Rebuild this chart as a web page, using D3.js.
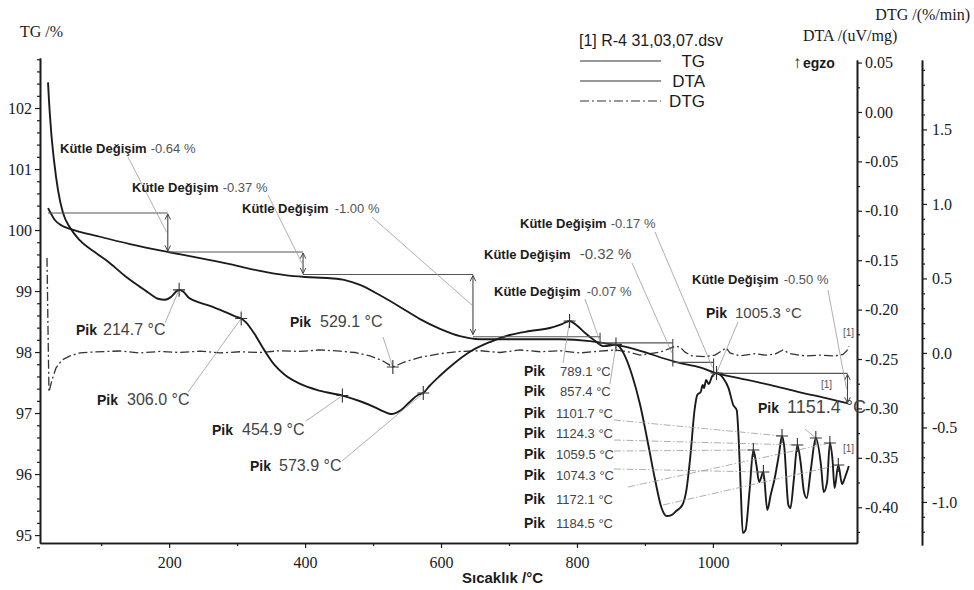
<!DOCTYPE html>
<html>
<head>
<meta charset="utf-8">
<script src="https://cdn.jsdelivr.net/npm/d3@7"></script>
<style>
  body { margin: 0; background: #fff; }
  svg { display: block; }
</style>
</head>
<body>
<svg id="chart" width="974" height="590"></svg>
<script>
// ---- Thermal analysis data (R-4 31,03,07) ----
const tgTemp = [21.8, 24.7, 32.1, 42.4, 54.1, 98.3, 142.4, 198.3, 245.4, 289.5, 333.7, 370.4, 399.9, 436.6, 458.7, 480.8, 510.2, 539.6, 569.1, 598.5, 627.9, 657.3, 716.2, 775.0, 819.2, 848.6, 878.0, 907.4, 929.5, 951.6, 981.0, 1003.1, 1039.8, 1083.9, 1128.1, 1164.9, 1198.7];
const tgValue = [100.36, 100.30, 100.16, 100.07, 100.02, 99.89, 99.77, 99.64, 99.54, 99.44, 99.33, 99.26, 99.23, 99.21, 99.18, 99.10, 98.93, 98.74, 98.54, 98.38, 98.26, 98.21, 98.21, 98.21, 98.18, 98.13, 98.07, 97.97, 97.89, 97.82, 97.75, 97.66, 97.57, 97.46, 97.34, 97.25, 97.16];

const dtaTemp = [21.8, 23.2, 26.2, 30.6, 36.5, 43.8, 54.1, 68.8, 90.9, 113.0, 135.1, 157.1, 171.8, 183.6, 193.9, 203, 210, 214.7, 221, 229, 237, 259, 281, 298, 306.0, 313, 325, 340, 355, 370, 392, 421, 454.9, 480, 502, 517, 527, 539, 554, 566, 573.9, 583, 598, 620, 642, 672, 701, 731, 760, 778, 789.1, 799, 812, 827, 839, 848, 852, 857.4, 863, 870, 881, 893, 905, 915, 924, 932, 939, 946, 955, 961, 967, 973, 977, 982, 985, 987, 990, 994, 999, 1005.3, 1015, 1023, 1030, 1035, 1038, 1041, 1044, 1048, 1054, 1059.5, 1064, 1068, 1074.3, 1080, 1085, 1091, 1097, 1101.7, 1105, 1111, 1114, 1119, 1124.3, 1129, 1134, 1138, 1144, 1151.4, 1159, 1163, 1168, 1172.1, 1176, 1179, 1184.5, 1190, 1194, 1200];
const dtaValue = [0.030, 0.012, -0.018, -0.049, -0.079, -0.102, -0.117, -0.130, -0.142, -0.153, -0.166, -0.177, -0.184, -0.189, -0.190, -0.187, -0.182, -0.180, -0.182, -0.188, -0.191, -0.196, -0.202, -0.207, -0.209, -0.213, -0.224, -0.241, -0.256, -0.266, -0.275, -0.282, -0.287, -0.2925, -0.2986, -0.3036, -0.3057, -0.3026, -0.2935, -0.2864, -0.2844, -0.2773, -0.2672, -0.2540, -0.2429, -0.2328, -0.2257, -0.2217, -0.2186, -0.2146, -0.2116, -0.2156, -0.2237, -0.2318, -0.2370, -0.2365, -0.2358, -0.2352, -0.2380, -0.2460, -0.2662, -0.2966, -0.3370, -0.3725, -0.3998, -0.4089, -0.4079, -0.4038, -0.3978, -0.3826, -0.3472, -0.3016, -0.2864, -0.2834, -0.2763, -0.2794, -0.2713, -0.2753, -0.2672, -0.2642, -0.2692, -0.2794, -0.2966, -0.3016, -0.3320, -0.3826, -0.4261, -0.4231, -0.3826, -0.3421, -0.3573, -0.3745, -0.3644, -0.4028, -0.3877, -0.3704, -0.3472, -0.3279, -0.3391, -0.3978, -0.4008, -0.3725, -0.3370, -0.3543, -0.3846, -0.3907, -0.3623, -0.3300, -0.3573, -0.3846, -0.3745, -0.3350, -0.3522, -0.3806, -0.3573, -0.3765, -0.3704, -0.3583];

const dtgTemp = [20.3, 21.8, 23.2, 27.7, 33.5, 42.4, 54.1, 68.8, 90.9, 127.7, 157.1, 186.5, 215.9, 245.4, 274.8, 304.2, 333.7, 363.1, 392.5, 421.9, 451.4, 473.4, 495.5, 513.1, 529.1, 546.7, 568.8, 598.5, 627.9, 657.3, 686.8, 716.2, 745.6, 775.0, 804.4, 833.9, 856.0, 878.0, 892.7, 907.4, 922.1, 936.8, 944.2, 951.6, 959.0, 969.2, 988.4, 1003.1, 1013.4, 1019.3, 1025.1, 1039.8, 1061.8, 1076.6, 1091.3, 1103.1, 1113.4, 1135.5, 1157.5, 1179.6, 1191.3, 1197.2, 1200.2];
const dtgValue = [0.638, 0.154, -0.262, -0.181, -0.101, -0.047, -0.020, 0.000, 0.007, 0.013, 0.000, 0.010, 0.003, 0.012, 0.000, 0.008, 0.003, 0.015, 0.010, 0.020, 0.012, 0.003, -0.020, -0.050, -0.094, -0.060, -0.030, -0.005, 0.010, 0.015, 0.003, 0.020, 0.008, 0.015, 0.000, 0.012, 0.020, 0.005, -0.015, -0.005, 0.005, 0.030, 0.045, 0.040, 0.005, -0.020, -0.025, -0.015, 0.015, 0.035, 0.000, -0.020, -0.005, -0.015, -0.008, 0.020, -0.005, -0.020, -0.015, -0.020, -0.010, 0.015, 0.045];

// Mass-change steps on the TG curve
const massFrom   = [21.8, 198, 397, 647, 834, 941, 1001];
const massTo     = [198, 397, 647, 834, 941, 1001, 1198];
const massLevel  = [100.28, 99.64, 99.27, 98.25, 98.15, 97.83, 97.65];
const massChange = [-0.64, -0.37, -1.00, -0.07, -0.32, -0.17, -0.50];

// Peaks (temperature, curve)
const pikTemp  = [214.7, 306.0, 454.9, 573.9, 529.1, 789.1, 857.4, 1101.7, 1124.3, 1059.5, 1074.3, 1172.1, 1184.5, 1005.3, 1151.4];
const pikCurve = ["DTA", "DTA", "DTA", "DTA", "DTG", "DTA", "DTA", "DTA", "DTA", "DTA", "DTA", "DTA", "DTA", "DTA", "DTA"];

// Axis ticks
const xTicks   = [200, 400, 600, 800, 1000];
const xMinor   = [100, 300, 500, 700, 900, 1100];
const tgTicks  = [95, 96, 97, 98, 99, 100, 101, 102];
const dtaTicks = [0.05, 0.00, -0.05, -0.10, -0.15, -0.20, -0.25, -0.30, -0.35, -0.40];
const dtgTicks = [1.5, 1.0, 0.5, 0.0, -0.5, -1.0];

// Legend entries
const legendTitle = "[1] R-4 31,03,07.dsv";
const legendNames = ["TG", "DTA", "DTG"];

// ---- Layout ----
const SERIF = '"Liberation Serif","Times New Roman",serif';
const SANS = '"Liberation Sans",Arial,sans-serif';
const INK = "#1b1b1b";

// Fixed-decimal formatting with a plain hyphen for negatives
const fixed = n => v => (Math.abs(v) < 1e-9 ? 0 : v).toFixed(n);

const svg = d3.select("#chart");

const x = d3.scaleLinear().domain([10, 1212]).range([40, 857]);
const yTG = d3.scaleLinear().domain([94.87, 102.82]).range([543, 58]);
const yDTA = d3.scaleLinear().domain([-0.4362, 0.0526]).range([543, 60]);
const yDTG = d3.scaleLinear().domain([-1.289, 1.966]).range([545, 60]);

function styleAxis(g, size) {
  g.select(".domain").attr("stroke", INK).attr("stroke-width", 1.6);
  g.selectAll(".tick line").attr("stroke", INK).attr("stroke-width", 1.2);
  g.selectAll(".tick text").attr("font-family", SERIF).attr("font-size", size).attr("fill", INK);
}

// Left TG axis
const tgMinor = d3.range(948, 1029, 2).map(v => v / 10).filter(v => Math.abs(v - Math.round(v)) > 0.01);
svg.append("g").attr("transform", "translate(40,0)")
  .call(d3.axisLeft(yTG).tickValues(tgMinor).tickSize(3).tickFormat("").tickSizeOuter(0))
  .call(g => styleAxis(g, 16));
svg.append("g").attr("transform", "translate(40,0)")
  .call(d3.axisLeft(yTG).tickValues(tgTicks).tickSize(5).tickPadding(3).tickFormat(fixed(0)).tickSizeOuter(0))
  .call(g => styleAxis(g, 16));

// Bottom temperature axis
svg.append("g").attr("transform", "translate(0,543)")
  .call(d3.axisBottom(x).tickValues(xMinor).tickSize(3).tickFormat("").tickSizeOuter(0))
  .call(g => styleAxis(g, 16));
svg.append("g").attr("transform", "translate(0,543)")
  .call(d3.axisBottom(x).tickValues(xTicks).tickSize(5).tickPadding(9).tickFormat(fixed(0)).tickSizeOuter(0))
  .call(g => styleAxis(g, 16));

// DTA axis (right of the plot)
const dtaMinor = d3.range(-17, 3, 2).map(v => v * 0.025);
svg.append("g").attr("transform", "translate(857,0)")
  .call(d3.axisRight(yDTA).tickValues(dtaMinor).tickSize(3).tickFormat("").tickSizeOuter(0))
  .call(g => styleAxis(g, 16));
svg.append("g").attr("transform", "translate(857,0)")
  .call(d3.axisRight(yDTA).tickValues(dtaTicks).tickSize(5).tickPadding(3).tickFormat(fixed(2)).tickSizeOuter(0))
  .call(g => styleAxis(g, 16));

// DTG axis (far right)
const dtgMinor = d3.range(-12, 20).map(v => v / 10).filter(v => Math.abs(v * 2 - Math.round(v * 2)) > 0.01);
svg.append("g").attr("transform", "translate(922,0)")
  .call(d3.axisRight(yDTG).tickValues(dtgMinor).tickSize(3).tickFormat("").tickSizeOuter(0))
  .call(g => styleAxis(g, 16));
svg.append("g").attr("transform", "translate(922,0)")
  .call(d3.axisRight(yDTG).tickValues(dtgTicks).tickSize(5).tickPadding(5).tickFormat(fixed(1)).tickSizeOuter(0))
  .call(g => styleAxis(g, 16));

// Axis titles
svg.append("text").attr("x", 20).attr("y", 37).attr("font-family", SERIF).attr("font-size", 16).attr("fill", INK).text("TG /%");
svg.append("text").attr("x", 970).attr("y", 20).attr("text-anchor", "end").attr("font-family", SERIF).attr("font-size", 16).attr("fill", INK).text("DTG /(%/min)");
svg.append("text").attr("x", 803).attr("y", 41).attr("font-family", SERIF).attr("font-size", 16).attr("fill", INK).text("DTA /(uV/mg)");
svg.append("text").attr("x", 462).attr("y", 583).attr("font-family", SANS).attr("font-weight", "bold").attr("font-size", 15).attr("fill", INK).text("Sıcaklık /°C");
svg.append("text").attr("x", 793).attr("y", 68).attr("font-family", SANS).attr("font-size", 17).attr("fill", INK).text("↑");
svg.append("text").attr("x", 803).attr("y", 68).attr("font-family", SANS).attr("font-weight", "bold").attr("font-size", 14).attr("fill", INK).text("egzo");

// Legend
const dashes = ["none", "none", "9,3,2,3"];
svg.append("text").attr("x", 579).attr("y", 46).attr("font-family", SANS).attr("font-size", 16).attr("fill", INK).text(legendTitle);
legendNames.forEach((name, i) => {
  const ly = 61 + i * 20;
  svg.append("line").attr("x1", 580).attr("x2", 661).attr("y1", ly).attr("y2", ly)
    .attr("stroke", "#333").attr("stroke-width", 1.2).attr("stroke-dasharray", dashes[i]);
  svg.append("text").attr("x", 705).attr("y", ly + 6).attr("text-anchor", "end")
    .attr("font-family", SANS).attr("font-size", 17).attr("fill", INK).text(name);
});

// ---- Curves ----
const tgData = tgTemp.map((t, i) => [t, tgValue[i]]);
const dtaData = dtaTemp.map((t, i) => [t, dtaValue[i]]);
const dtgData = dtgTemp.map((t, i) => [t, dtgValue[i]]);

function lineFor(scale) {
  return d3.line().x(d => x(d[0])).y(d => scale(d[1])).curve(d3.curveMonotoneX);
}

svg.append("path").datum(dtgData).attr("d", d3.line().x(d => x(d[0])).y(d => yDTG(d[1])).curve(d3.curveLinear))
  .attr("fill", "none").attr("stroke", "#333").attr("stroke-width", 1.3).attr("stroke-dasharray", "9,3,2,3");
svg.append("path").datum(tgData).attr("d", lineFor(yTG))
  .attr("fill", "none").attr("stroke", INK).attr("stroke-width", 1.8);
svg.append("path").datum(dtaData).attr("d", lineFor(yDTA))
  .attr("fill", "none").attr("stroke", INK).attr("stroke-width", 1.9).attr("stroke-linejoin", "round");

// ---- Mass-change steps ----
const defs = svg.append("defs");
defs.append("marker").attr("id", "head").attr("viewBox", "0 0 10 10").attr("refX", 9).attr("refY", 5)
  .attr("markerWidth", 7).attr("markerHeight", 7).attr("orient", "auto-start-reverse")
  .attr("markerUnits", "userSpaceOnUse")
  .append("path").attr("d", "M1,1 L9,5 L1,9").attr("fill", "none").attr("stroke", "#444").attr("stroke-width", 1.4);

const massLabelPlace = [
  { x: 60,  y: 153, gap: 4, vs: 13, lx: 128, ly: 157 },
  { x: 132, y: 192, gap: 4, vs: 13, lx: 268, ly: 195 },
  { x: 242, y: 213, gap: 6, vs: 13, lx: 372, ly: 217 },
  { x: 494, y: 296, gap: 6, vs: 13, lx: 585, ly: 299 },
  { x: 484, y: 259, gap: 9, vs: 15, lx: 632, ly: 263 },
  { x: 520, y: 228, gap: 4, vs: 13, lx: 655, ly: 232 },
  { x: 692, y: 284, gap: 5, vs: 13, lx: 828, ly: 290 }
];

massChange.forEach((chg, i) => {
  const yTop = yTG(massLevel[i]);
  const yBot = yTG(massLevel[i] + chg);
  const xa = x(massFrom[i]);
  const xb = x(massTo[i]);
  svg.append("line").attr("x1", xa).attr("x2", xb).attr("y1", yTop).attr("y2", yTop)
    .attr("stroke", "#555").attr("stroke-width", 1.1);
  const big = Math.abs(chg) >= 0.35;
  const arrow = svg.append("line").attr("x1", xb).attr("x2", xb)
    .attr("y1", big ? yTop + 1 : yTop - 4).attr("y2", big ? yBot - 1 : yBot + 4)
    .attr("stroke", "#444").attr("stroke-width", 1.1);
  if (big) arrow.attr("marker-start", "url(#head)").attr("marker-end", "url(#head)");

  const p = massLabelPlace[i];
  const t1 = svg.append("text").attr("x", p.x).attr("y", p.y).attr("font-family", SANS)
    .attr("font-weight", "bold").attr("font-size", 13).attr("fill", INK).text("Kütle Değişim");
  const w = t1.node().getComputedTextLength();
  svg.append("text").attr("x", p.x + w + p.gap).attr("y", p.y).attr("font-family", SANS)
    .attr("font-size", p.vs).attr("fill", "#555").text(fixed(2)(chg) + " %");
  svg.append("line").attr("x1", p.lx).attr("y1", p.ly).attr("x2", xb - 1).attr("y2", (yTop + yBot) / 2)
    .attr("stroke", "#9a9a9a").attr("stroke-width", 0.8);
});

// ---- Peak markers and labels ----
function valueAt(temps, vals, t) {
  const i = d3.bisectLeft(temps, t);
  if (i <= 0) return vals[0];
  if (i >= temps.length) return vals[vals.length - 1];
  const f = (t - temps[i - 1]) / (temps[i] - temps[i - 1]);
  return vals[i - 1] + f * (vals[i] - vals[i - 1]);
}

const pikPlace = [
  { x: 76,  y: 335, ps: 14, vs: 16, gap: 6,  lx: 165, ly: 323 },
  { x: 97,  y: 405, ps: 14, vs: 16, gap: 9,  lx: 188, ly: 392 },
  { x: 212, y: 435, ps: 14, vs: 16, gap: 9,  lx: 306, ly: 421 },
  { x: 250, y: 471, ps: 14, vs: 16, gap: 8,  lx: 342, ly: 461 },
  { x: 290, y: 327, ps: 14, vs: 16, gap: 9,  lx: 383, ly: 337 },
  { x: 524, y: 376, ps: 14, vs: 13, gap: 15, lx: 563, ly: 363 },
  { x: 524, y: 396, ps: 14, vs: 13, gap: 15, lx: 610, ly: 384 },
  { x: 524, y: 418, ps: 14, vs: 13, gap: 11, lx: 614, ly: 420 },
  { x: 524, y: 438, ps: 14, vs: 13, gap: 11, lx: 614, ly: 440 },
  { x: 524, y: 459, ps: 14, vs: 13, gap: 11, lx: 614, ly: 451 },
  { x: 524, y: 480, ps: 14, vs: 13, gap: 11, lx: 614, ly: 469 },
  { x: 524, y: 504, ps: 14, vs: 13, gap: 11, lx: 628, ly: 487 },
  { x: 524, y: 528, ps: 14, vs: 13, gap: 11, lx: 663, ly: 505 },
  { x: 706, y: 318, ps: 14, vs: 15, gap: 8,  lx: 738, ly: 322 },
  { x: 758, y: 413, ps: 14, vs: 18, gap: 8,  lx: 805, ly: 429 }
];

pikTemp.forEach((t, i) => {
  const onDTG = pikCurve[i] === "DTG";
  const v = onDTG ? valueAt(dtgTemp, dtgValue, t) : valueAt(dtaTemp, dtaValue, t);
  const px = x(t);
  const py = onDTG ? yDTG(v) : yDTA(v);
  const p = pikPlace[i];
  const dashed = i >= 7 && i <= 12;
  svg.append("line").attr("x1", p.lx).attr("y1", p.ly).attr("x2", px).attr("y2", py)
    .attr("stroke", "#9a9a9a").attr("stroke-width", 0.8)
    .attr("stroke-dasharray", dashed ? "7,2,1.5,2" : "none");
  svg.append("path").attr("d", `M${px - 6},${py}H${px + 6}M${px},${py - 7}V${py + 7}`)
    .attr("stroke", "#333").attr("stroke-width", 1.1);
  const t1 = svg.append("text").attr("x", p.x).attr("y", p.y).attr("font-family", SANS)
    .attr("font-weight", "bold").attr("font-size", p.ps).attr("fill", INK).text("Pik");
  const w = t1.node().getComputedTextLength();
  svg.append("text").attr("x", p.x + w + p.gap).attr("y", p.y).attr("font-family", SANS)
    .attr("font-size", p.vs).attr("fill", "#444").text(fixed(1)(t) + " °C");
});

// ---- Curve end tags ----
[[843, 336], [821, 388], [843, 452]].forEach(([tx, ty]) => {
  svg.append("text").attr("x", tx).attr("y", ty).attr("font-family", SANS)
    .attr("font-size", 10).attr("fill", "#555").text("[1]");
});
</script>
</body>
</html>
